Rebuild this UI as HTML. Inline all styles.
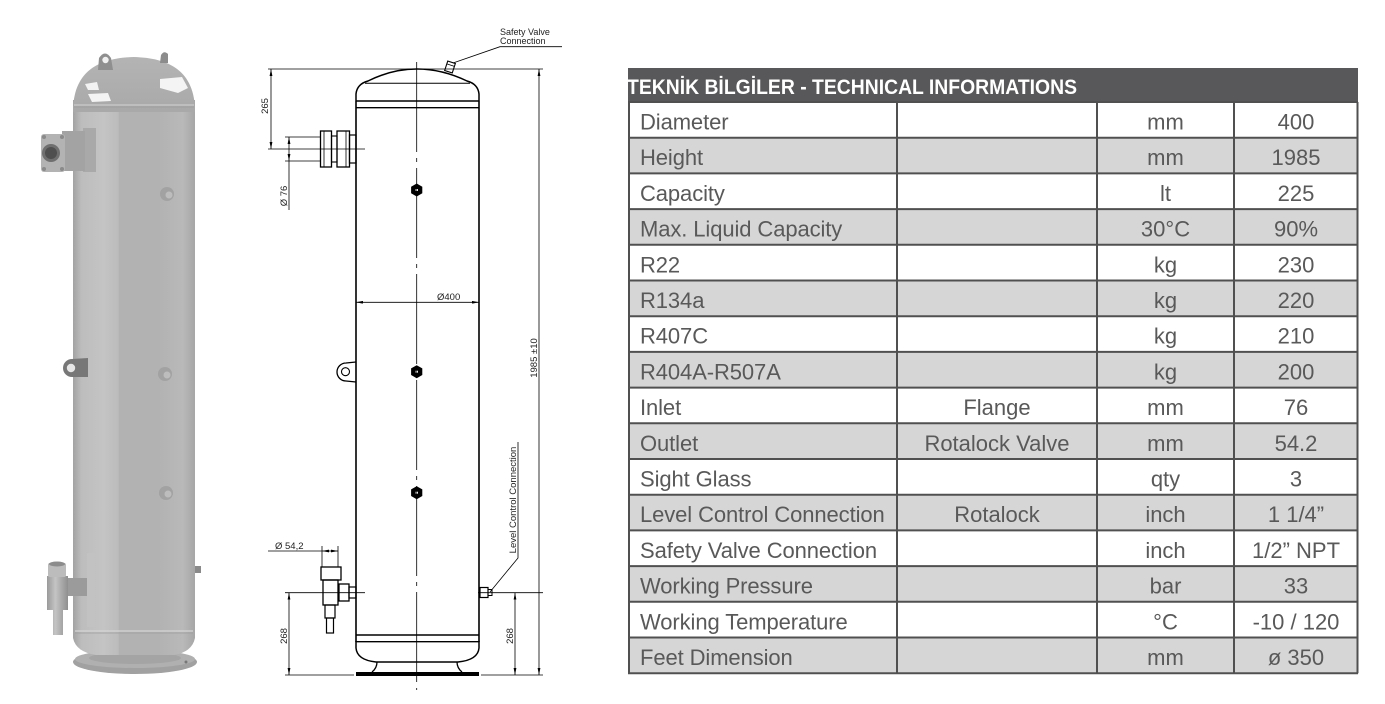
<!DOCTYPE html>
<html>
<head>
<meta charset="utf-8">
<style>
html,body{margin:0;padding:0;background:#fff;}
body{width:1385px;height:704px;overflow:hidden;position:relative;}
svg{position:absolute;left:0;top:0;}
.t{font-family:"Liberation Sans",sans-serif;}
</style>
</head>
<body>
<svg width="1385" height="704" viewBox="0 0 1385 704" xmlns="http://www.w3.org/2000/svg">
<defs>
  <linearGradient id="body" x1="73" y1="0" x2="195" y2="0" gradientUnits="userSpaceOnUse">
    <stop offset="0" stop-color="#a2a2a2"/>
    <stop offset="0.07" stop-color="#bdbdbd"/>
    <stop offset="0.25" stop-color="#c4c4c4"/>
    <stop offset="0.37" stop-color="#bcbcbc"/>
    <stop offset="0.38" stop-color="#b2b2b2"/>
    <stop offset="0.7" stop-color="#b2b2b2"/>
    <stop offset="0.9" stop-color="#b9b9b9"/>
    <stop offset="1" stop-color="#a6a6a6"/>
  </linearGradient>
  <linearGradient id="dome" x1="0" y1="57" x2="0" y2="110" gradientUnits="userSpaceOnUse">
    <stop offset="0" stop-color="#b4b4b4"/>
    <stop offset="1" stop-color="#a9a9a9"/>
  </linearGradient>
  <linearGradient id="valve" x1="47" y1="0" x2="68" y2="0" gradientUnits="userSpaceOnUse">
    <stop offset="0" stop-color="#9a9a9a"/>
    <stop offset="0.4" stop-color="#c4c4c4"/>
    <stop offset="1" stop-color="#8f8f8f"/>
  </linearGradient>
  <marker id="a" viewBox="0 0 10 4" refX="10" refY="2" markerWidth="7" markerHeight="2.8" markerUnits="userSpaceOnUse" orient="auto-start-reverse">
    <path d="M0,0 L10,2 L0,4 z" fill="#000"/>
  </marker>
</defs>

<!-- ================= 3D TANK ================= -->
<ellipse cx="135" cy="662" rx="62" ry="12" fill="#a1a1a1"/>
<ellipse cx="135" cy="659" rx="60" ry="9" fill="#b0b0b0"/>
<ellipse cx="135" cy="658" rx="46" ry="6" fill="#a4a4a4"/>
<circle cx="186" cy="662" r="1.5" fill="#777"/>
<rect x="73" y="100" width="122" height="534" fill="url(#body)"/>
<path d="M73,634 L73,638 Q76,652 96,655 L174,655 Q192,652 195,638 L195,634 Z" fill="url(#body)"/>
<line x1="75" y1="631" x2="193" y2="631" stroke="#d4d4d4" stroke-width="1.2"/>
<line x1="75" y1="633" x2="193" y2="633" stroke="#9c9c9c" stroke-width="0.8"/>
<path d="M73,112 C73,70 100,58 134,57 C168,58 195,70 195,112 Z" fill="url(#dome)"/>
<line x1="74" y1="105" x2="194" y2="105" stroke="#c9c9c9" stroke-width="1.2"/>
<line x1="74" y1="107" x2="194" y2="107" stroke="#9d9d9d" stroke-width="0.8"/>
<path d="M85,84 L97,82 L99,90 L88,90 Z" fill="#f2f2f2"/>
<path d="M88,94 L108,93 L111,101 L92,102 Z" fill="#f4f4f4"/>
<path d="M160,79 L182,77 L188,88 L178,93 L160,88 Z" fill="#f4f4f4"/>
<path d="M98,70 L99,58 Q105,49 111,58 L113,70 Z" fill="#8f8f8f"/>
<circle cx="105.5" cy="60" r="3.2" fill="#f0f0f0"/>
<path d="M160,63 L161,55 Q164,50 168,54 L168,63 Z" fill="#8c8c8c"/>
<rect x="83" y="128" width="13" height="44" fill="#a9a9a9"/>
<rect x="62" y="131" width="23" height="40" fill="#a3a3a3"/>
<rect x="41" y="134" width="24" height="38" rx="3" fill="#b3b3b3"/>
<circle cx="51" cy="153" r="9" fill="#6f6f6f"/>
<circle cx="51" cy="153" r="6" fill="#4f4f4f"/>
<circle cx="44" cy="137" r="2" fill="#8a8a8a"/>
<circle cx="62" cy="137" r="2" fill="#8a8a8a"/>
<circle cx="44" cy="169" r="2" fill="#8a8a8a"/>
<circle cx="62" cy="169" r="2" fill="#8a8a8a"/>
<circle cx="167" cy="194" r="7" fill="#a2a2a2"/><circle cx="169" cy="195" r="3.5" fill="#bdbdbd"/>
<circle cx="165" cy="374" r="7" fill="#a2a2a2"/><circle cx="167" cy="375" r="3.5" fill="#bdbdbd"/>
<circle cx="166" cy="493" r="7" fill="#a2a2a2"/><circle cx="168" cy="494" r="3.5" fill="#bdbdbd"/>
<path d="M88,358 L72,359 A9,9 0 0 0 72,377 L88,377 Z" fill="#777"/>
<circle cx="71" cy="368" r="4.2" fill="#e6e6e6"/>
<rect x="87" y="553" width="8" height="74" fill="#c2c2c2"/>
<rect x="65" y="578" width="22" height="18" fill="#9b9b9b"/>
<rect x="47" y="576" width="21" height="34" fill="url(#valve)"/>
<rect x="48" y="563" width="18" height="14" rx="2" fill="#bcbcbc"/>
<ellipse cx="57" cy="564" rx="8" ry="2.5" fill="#8c8c8c"/>
<rect x="53" y="609" width="10" height="26" fill="url(#valve)"/>
<rect x="195" y="566" width="6" height="7" fill="#8a8a8a"/>

<!-- ================= TECHNICAL DRAWING ================= -->
<g stroke="#000" fill="none">
  <path d="M356,101 L356,94 Q357,84 368,81 Q392,69 417,69 Q442,69 467,81 Q478,84 479,94 L479,101" stroke-width="1.5"/>
  <line x1="365" y1="83.3" x2="470" y2="83.3" stroke-width="1"/>
  <line x1="356" y1="101" x2="479" y2="101" stroke-width="1.4"/>
  <line x1="356" y1="107.7" x2="479" y2="107.7" stroke-width="1.4"/>
  <line x1="356" y1="101" x2="356" y2="642" stroke-width="1.6"/>
  <line x1="479" y1="101" x2="479" y2="642" stroke-width="1.6"/>
  <line x1="356" y1="635" x2="479" y2="635" stroke-width="1.4"/>
  <line x1="356" y1="641.7" x2="479" y2="641.7" stroke-width="1.4"/>
  <path d="M356,641 L356,648 Q357,660 376,662 L458,662 Q478,660 479,648 L479,641" stroke-width="1.5"/>
  <path d="M377,662 Q377,668 372,672" stroke-width="1.3"/>
  <path d="M457,662 Q457,668 462,672" stroke-width="1.3"/>
  <line x1="416.7" y1="62" x2="416.7" y2="690" stroke-width="0.8" stroke-dasharray="90 6 4 6"/>
  <g transform="translate(450,67) rotate(18)">
    <rect x="-4" y="-5" width="8" height="10" stroke-width="1.1"/>
    <line x1="-4" y1="-2" x2="4" y2="-2" stroke-width="0.8"/>
  </g>
  <polyline points="453,63 500,46.7 562,46.7" stroke-width="0.8"/>
  <rect x="320.5" y="131" width="11" height="36" stroke-width="1.3"/>
  <rect x="331.5" y="136" width="5.5" height="26" stroke-width="1.1"/>
  <rect x="337" y="131" width="12.5" height="36" stroke-width="1.3"/>
  <rect x="349.5" y="135" width="6.5" height="28" stroke-width="1.2"/>
  <line x1="324" y1="131" x2="324" y2="167" stroke-width="0.8"/>
  <line x1="346" y1="131" x2="346" y2="167" stroke-width="0.8"/>
  <path d="M356,362 L346,363 A9,9 0 0 0 346,381 L356,382" stroke-width="1.3"/>
  <circle cx="345.5" cy="371.7" r="4" stroke-width="1.1"/>
  <rect x="356" y="672" width="123" height="4" fill="#000" stroke="none"/>
  <rect x="321" y="567" width="20" height="13" stroke-width="1.3"/>
  <rect x="323" y="580" width="15" height="25" stroke-width="1.3"/>
  <rect x="325" y="605" width="10" height="13" stroke-width="1.2"/>
  <rect x="326.5" y="618" width="7" height="15" stroke-width="1.2"/>
  <rect x="339" y="584" width="10" height="17" stroke-width="1.3"/>
  <rect x="349" y="587" width="7" height="11" stroke-width="1.2"/>
  <rect x="480" y="587.5" width="8" height="10" stroke-width="1.2"/>
  <rect x="488" y="589.5" width="4" height="6" stroke-width="1"/>
  <polyline points="490,592 518,558 518,442" stroke-width="0.8"/>

  <g stroke-width="0.8">
    <line x1="268" y1="69" x2="543" y2="69"/>
    <line x1="268" y1="149" x2="365" y2="149"/>
    <line x1="271" y1="69" x2="271" y2="149" marker-start="url(#a)" marker-end="url(#a)"/>
    <line x1="285" y1="137" x2="320" y2="137"/>
    <line x1="285" y1="161" x2="320" y2="161"/>
    <line x1="289" y1="137" x2="289" y2="161" marker-start="url(#a)" marker-end="url(#a)"/>
    <line x1="289" y1="161" x2="289" y2="210"/>
    <line x1="356" y1="302.3" x2="479" y2="302.3" marker-start="url(#a)" marker-end="url(#a)"/>
    <line x1="539" y1="69" x2="539" y2="675" marker-start="url(#a)" marker-end="url(#a)"/>
    <line x1="268" y1="551" x2="322" y2="551"/>
    <line x1="322" y1="551" x2="338" y2="551" marker-start="url(#a)" marker-end="url(#a)"/>
    <line x1="322" y1="546" x2="322" y2="567"/>
    <line x1="338" y1="546" x2="338" y2="567"/>
    <line x1="285" y1="592.7" x2="365" y2="592.7"/>
    <line x1="478" y1="592.7" x2="543" y2="592.7"/>
    <line x1="289" y1="592.7" x2="289" y2="675" marker-start="url(#a)" marker-end="url(#a)"/>
    <line x1="515" y1="592.7" x2="515" y2="675" marker-start="url(#a)" marker-end="url(#a)"/>
    <line x1="285" y1="675" x2="354" y2="675"/>
    <line x1="481" y1="675" x2="543" y2="675"/>
  </g>
</g>
<g fill="#000">
  <polygon points="416.7,183.5 422.3,186.7 422.3,193.3 416.7,196.5 411.1,193.3 411.1,186.7"/>
  <polygon points="416.7,365.2 422.3,368.4 422.3,375 416.7,378.2 411.1,375 411.1,368.4"/>
  <polygon points="416.7,486.2 422.3,489.4 422.3,496 416.7,499.2 411.1,496 411.1,489.4"/>
</g>
<g fill="#fff">
  <rect x="415.6" y="189" width="0.9" height="2"/><rect x="417" y="189" width="0.9" height="2"/>
  <rect x="415.6" y="370.7" width="0.9" height="2"/><rect x="417" y="370.7" width="0.9" height="2"/>
  <rect x="415.6" y="491.7" width="0.9" height="2"/><rect x="417" y="491.7" width="0.9" height="2"/>
</g>
<g class="t" font-size="9" fill="#222">
  <text x="500" y="35">Safety Valve</text>
  <text x="500" y="44">Connection</text>
  <text x="0" y="0" transform="translate(268,106) rotate(-90)" text-anchor="middle" font-size="9.5">265</text>
  <text x="0" y="0" transform="translate(287,196) rotate(-90)" text-anchor="middle" font-size="9.5">Ø 76</text>
  <text x="437" y="300" font-size="9.5">Ø400</text>
  <text x="0" y="0" transform="translate(537,358) rotate(-90)" text-anchor="middle" font-size="9.5">1985  ±10</text>
  <text x="0" y="0" transform="translate(516,500) rotate(-90)" text-anchor="middle" font-size="9.5">Level Control Connection</text>
  <text x="275" y="549" font-size="9.5">Ø 54,2</text>
  <text x="0" y="0" transform="translate(287,636) rotate(-90)" text-anchor="middle" font-size="9.5">268</text>
  <text x="0" y="0" transform="translate(513,636) rotate(-90)" text-anchor="middle" font-size="9.5">268</text>
</g>

<!-- ================= TABLE ================= -->
<rect x="628" y="68" width="730" height="34" fill="#58585a"/>
<text class="t" x="627" y="94" font-size="21" font-weight="bold" fill="#fff" textLength="450" lengthAdjust="spacingAndGlyphs">TEKNİK BİLGİLER - TECHNICAL INFORMATIONS</text>
<g fill="#d6d6d6">
  <rect x="628" y="137.7" width="730" height="35.7"/>
  <rect x="628" y="209.1" width="730" height="35.7"/>
  <rect x="628" y="280.5" width="730" height="35.7"/>
  <rect x="628" y="351.9" width="730" height="35.7"/>
  <rect x="628" y="423.3" width="730" height="35.7"/>
  <rect x="628" y="494.7" width="730" height="35.7"/>
  <rect x="628" y="566.1" width="730" height="35.7"/>
  <rect x="628" y="637.5" width="730" height="35.7"/>
</g>
<g stroke="#505050" stroke-width="2">
  <line x1="628" y1="102" x2="1358" y2="102"/>
  <line x1="628" y1="137.7" x2="1358" y2="137.7"/>
  <line x1="628" y1="173.4" x2="1358" y2="173.4"/>
  <line x1="628" y1="209.1" x2="1358" y2="209.1"/>
  <line x1="628" y1="244.8" x2="1358" y2="244.8"/>
  <line x1="628" y1="280.5" x2="1358" y2="280.5"/>
  <line x1="628" y1="316.2" x2="1358" y2="316.2"/>
  <line x1="628" y1="351.9" x2="1358" y2="351.9"/>
  <line x1="628" y1="387.6" x2="1358" y2="387.6"/>
  <line x1="628" y1="423.3" x2="1358" y2="423.3"/>
  <line x1="628" y1="459" x2="1358" y2="459"/>
  <line x1="628" y1="494.7" x2="1358" y2="494.7"/>
  <line x1="628" y1="530.4" x2="1358" y2="530.4"/>
  <line x1="628" y1="566.1" x2="1358" y2="566.1"/>
  <line x1="628" y1="601.8" x2="1358" y2="601.8"/>
  <line x1="628" y1="637.5" x2="1358" y2="637.5"/>
  <line x1="628" y1="673.2" x2="1358" y2="673.2"/>
  <line x1="629" y1="102" x2="629" y2="673.2"/>
  <line x1="897" y1="102" x2="897" y2="673.2"/>
  <line x1="1097" y1="102" x2="1097" y2="673.2"/>
  <line x1="1234" y1="102" x2="1234" y2="673.2"/>
  <line x1="1357.5" y1="102" x2="1357.5" y2="673.2"/>
</g>
<g class="t" font-size="22" fill="#595959" letter-spacing="-0.1">
  <text x="640" y="129.5">Diameter</text>
  <text x="640" y="165.2">Height</text>
  <text x="640" y="200.9">Capacity</text>
  <text x="640" y="236.6">Max. Liquid Capacity</text>
  <text x="640" y="272.3">R22</text>
  <text x="640" y="308">R134a</text>
  <text x="640" y="343.7">R407C</text>
  <text x="640" y="379.4">R404A-R507A</text>
  <text x="640" y="415.1">Inlet</text>
  <text x="640" y="450.8">Outlet</text>
  <text x="640" y="486.5">Sight Glass</text>
  <text x="640" y="522.2">Level Control Connection</text>
  <text x="640" y="557.9">Safety Valve Connection</text>
  <text x="640" y="593.6">Working Pressure</text>
  <text x="640" y="629.3">Working Temperature</text>
  <text x="640" y="665">Feet Dimension</text>
</g>
<g class="t" font-size="22" fill="#595959" text-anchor="middle">
  <text x="997" y="415.1">Flange</text>
  <text x="997" y="450.8">Rotalock Valve</text>
  <text x="997" y="522.2">Rotalock</text>

  <text x="1165.5" y="129.5">mm</text>
  <text x="1165.5" y="165.2">mm</text>
  <text x="1165.5" y="200.9">lt</text>
  <text x="1165.5" y="236.6">30°C</text>
  <text x="1165.5" y="272.3">kg</text>
  <text x="1165.5" y="308">kg</text>
  <text x="1165.5" y="343.7">kg</text>
  <text x="1165.5" y="379.4">kg</text>
  <text x="1165.5" y="415.1">mm</text>
  <text x="1165.5" y="450.8">mm</text>
  <text x="1165.5" y="486.5">qty</text>
  <text x="1165.5" y="522.2">inch</text>
  <text x="1165.5" y="557.9">inch</text>
  <text x="1165.5" y="593.6">bar</text>
  <text x="1165.5" y="629.3">°C</text>
  <text x="1165.5" y="665">mm</text>

  <text x="1296" y="129.5">400</text>
  <text x="1296" y="165.2">1985</text>
  <text x="1296" y="200.9">225</text>
  <text x="1296" y="236.6">90%</text>
  <text x="1296" y="272.3">230</text>
  <text x="1296" y="308">220</text>
  <text x="1296" y="343.7">210</text>
  <text x="1296" y="379.4">200</text>
  <text x="1296" y="415.1">76</text>
  <text x="1296" y="450.8">54.2</text>
  <text x="1296" y="486.5">3</text>
  <text x="1296" y="522.2">1 1/4”</text>
  <text x="1296" y="557.9">1/2” NPT</text>
  <text x="1296" y="593.6">33</text>
  <text x="1296" y="629.3">-10 / 120</text>
  <text x="1296" y="665">ø 350</text>
</g>
</svg>
</body>
</html>
